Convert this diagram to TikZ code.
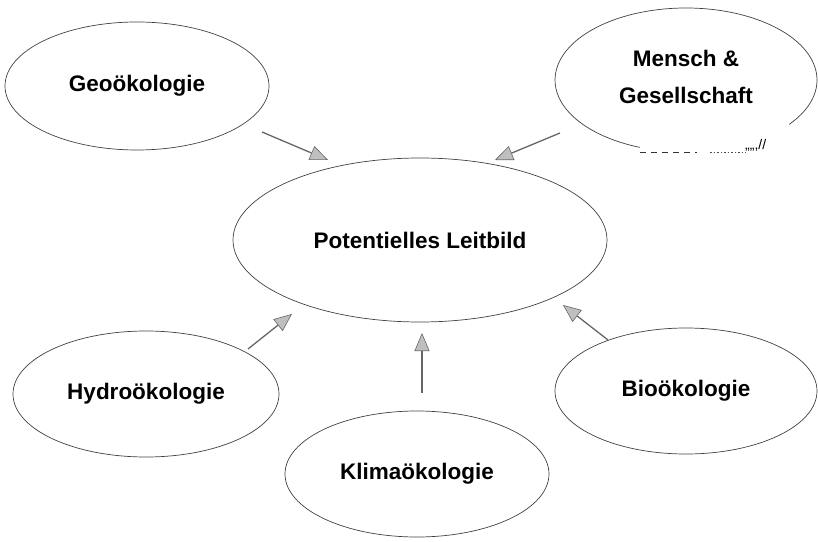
\documentclass[tikz,border=0pt]{standalone}
\usepackage{fontspec}
\setmainfont{Liberation Sans}
\usetikzlibrary{shapes.geometric,arrows.meta}
\begin{document}
\begin{tikzpicture}[x=1pt,y=1pt,
  ell/.style={ellipse,draw=black!75,line width=0.7pt,inner sep=0pt,align=center,
    font=\fontsize{22.5}{37}\selectfont\bfseries},
  arr/.style={draw=black!60,line width=1.3pt,
    -{Triangle[length=18pt,width=15pt,fill=black!25,line width=0.6pt]}}]
\useasboundingbox (0,0) rectangle (818,541);
% nodes
\node[ell,minimum width=374pt,minimum height=164pt] (pot) at (420,301) {Potentielles Leitbild};
\node[ell,minimum width=264pt,minimum height=128pt] (geo) at (137,455) {Geoökologie};
\node[ellipse,inner sep=0pt,align=center,minimum width=262pt,minimum height=144pt,
  font=\fontsize{22.5}{37}\selectfont\bfseries] (men) at (686,464.5) {Mensch \&\\Gesellschaft};
\node[ell,minimum width=266pt,minimum height=126pt] (hyd) at (146,147) {Hydroökologie};
\node[ell,minimum width=264pt,minimum height=126pt] (kli) at (417,67) {Klimaökologie};
\node[ell,minimum width=262pt,minimum height=126pt] (bio) at (686,150) {Bioökologie};
% Mensch ellipse with broken bottom
\draw[black!75,line width=0.7pt] ([yshift=-3.5pt]men.center) ++(-38:131pt and 72pt)
  arc[start angle=-38,end angle=249.4,x radius=131pt,y radius=72pt];
\draw[black!80,line width=1pt,dash pattern=on 6pt off 5pt] (640,388) -- (697,388);
\draw[black!70,line width=1pt,dash pattern=on 1.5pt off 2pt] (710,388) -- (746,388);
\node[font=\fontsize{14}{14}\selectfont,inner sep=0pt,anchor=base west] (brk) at (745,391) {,,,,,//};
% arrow end points
\coordinate (g1) at (262,409); \coordinate (g2) at (328,381);
\coordinate (m1) at (560,408); \coordinate (m2) at (495,381);
\coordinate (h1) at (248,192); \coordinate (h2) at (292,227);
\coordinate (k1) at (422,148); \coordinate (k2) at (422,208);
\coordinate (b1) at (608,201); \coordinate (b2) at (563,236);
\draw[arr] (g1) -- (g2);
\draw[arr] (m1) -- (m2);
\draw[arr] (h1) -- (h2);
\draw[arr] (k1) -- (k2);
\draw[arr] (b1) -- (b2);
\end{tikzpicture}
\end{document}
